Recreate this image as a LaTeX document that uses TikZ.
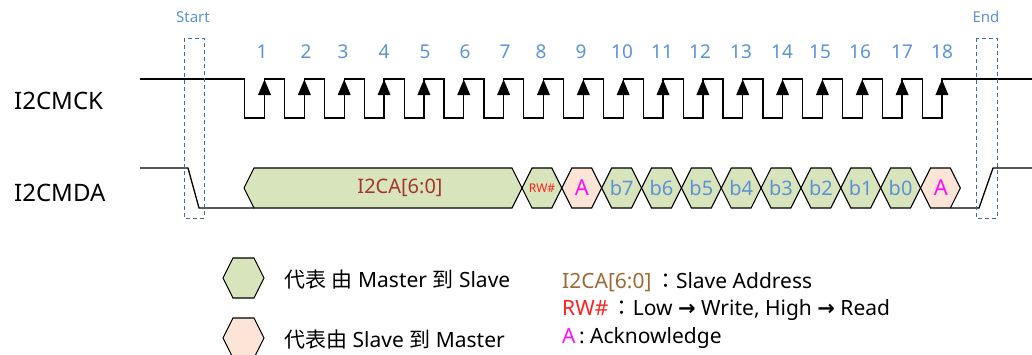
\documentclass[tikz,border=0pt]{standalone}
\usepackage{fontspec}
\setmainfont{Noto Sans}
\newfontfamily\cjk{Noto Sans CJK TC}
\newfontfamily\dv{DejaVu Sans}
\definecolor{hexgreen}{HTML}{D8E4BC}
\definecolor{hexpeach}{HTML}{FCE4D6}
\definecolor{numblue}{HTML}{5B93D5}
\definecolor{boxblue}{HTML}{4A6A90}
\definecolor{addrred}{HTML}{A5362E}
\definecolor{addrbrown}{HTML}{9C6A36}
\definecolor{rwred}{HTML}{FF2020}
\definecolor{ackmag}{HTML}{FF10F0}
\newcommand{\rarr}{{\dv\bfseries →}}
\begin{document}
\begin{tikzpicture}[x=1pt,y=-1pt,
  sig/.style={line width=1.3pt,line join=miter},
  hexa/.style={draw=black,line width=1.1pt,line join=miter},
  numlbl/.style={text=numblue,font=\fontsize{19}{19}\selectfont,inner sep=0pt},
  sigtitle/.style={font=\fontsize{24}{24}\selectfont,inner sep=0pt,anchor=west},
  bitlbl/.style={text=numblue,font=\fontsize{20}{20}\selectfont,inner sep=0pt},
  dashbox/.style={draw=boxblue,dashed,line width=1pt,dash pattern=on 4pt off 3pt},
  legtxt/.style={font=\fontsize{21}{21}\selectfont,inner sep=0pt,anchor=west},
  legtxtr/.style={font=\fontsize{21}{21}\selectfont,inner sep=0pt,anchor=west}]
\useasboundingbox (0,0) rectangle (1032,354);
\clip (0,0) rectangle (1032,354);

% signal names
\node[sigtitle] (mck) at (14,101) {I2CMCK};
\node[sigtitle] (mda) at (14,193) {I2CMDA};

% clock
\def\clkpath{(140,79)}
\foreach \k in {1,...,18}{
  \pgfmathsetmacro{\r}{264.5+39.85*(\k-1)}
  \pgfmathsetmacro{\f}{\r-19.7}
  \xdef\clkpath{\clkpath -- (\f,79) -- (\f,118) -- (\r,118) -- (\r,79)}
}
\draw[sig] \clkpath -- (1032,79);
\foreach \k in {1,...,18}{
  \pgfmathsetmacro{\r}{264.5+39.85*(\k-1)}
  \fill (\r,79.5) -- (\r-6.5,95) -- (\r+6.5,95) -- cycle;
}
% clock numbers
\foreach \n/\x in {1/262,2/306,3/343,4/384,5/425,6/465,7/505,8/541,9/581,10/622,11/662,12/700,13/741,14/782,15/820,16/860,17/902,18/942}{
  \node[numlbl] (n\n) at (\x,52) {\n};
}

% data line
\draw[sig] (140,168) -- (188,168) -- (199,208) -- (254,208);
\draw[sig] (950.4,208) -- (979,208) -- (993,168) -- (1032,168);

% address hexagon
\draw[hexa,fill=hexgreen] (244,188) -- (254,168) -- (512,168) -- (522,188) -- (512,208) -- (254,208) -- cycle;
\node[text=addrred,font=\fontsize{20}{20}\selectfont,inner sep=0pt] (addr) at (400,188) {I2CA[6:0]};

% bit hexagons
\foreach \i/\fc in {0/hexgreen,1/hexpeach,2/hexgreen,3/hexgreen,4/hexgreen,5/hexgreen,6/hexgreen,7/hexgreen,8/hexgreen,9/hexgreen,10/hexpeach}{
  \pgfmathsetmacro{\a}{522+39.85*\i}
  \pgfmathsetmacro{\b}{522+39.85*(\i+1)}
  \draw[hexa,fill=\fc] (\a,188) -- (\a+10,168) -- (\b-10,168) -- (\b,188) -- (\b-10,208) -- (\a+10,208) -- cycle;
}
\node[text=rwred,font=\fontsize{12}{12}\selectfont,inner sep=0pt] (rw) at (542,188) {RW\#};
\node[text=ackmag,font=\fontsize{22}{22}\selectfont,inner sep=0pt] (ack1) at (582,188) {A};
\foreach \i/\t in {2/b7,3/b6,4/b5,5/b4,6/b3,7/b2,8/b1,9/b0}{
  \pgfmathsetmacro{\c}{522+39.85*(\i+0.5)}
  \node[bitlbl] (\t) at (\c,188) {\t};
}
\node[text=ackmag,font=\fontsize{22}{22}\selectfont,inner sep=0pt] (ack2) at (941,188) {A};

% start / end boxes
\draw[dashbox] (184,38) rectangle (204,218);
\draw[dashbox] (976,38) rectangle (997,218);
\node[text=numblue,font=\fontsize{15}{15}\selectfont,inner sep=0pt] (start) at (193,17) {Start};
\node[text=numblue,font=\fontsize{15}{15}\selectfont,inner sep=0pt] (end) at (986,17) {End};

% legend
\draw[hexa,fill=hexgreen] (223,278) -- (233,258) -- (254,258) -- (264,278) -- (254,298) -- (233,298) -- cycle;
\draw[hexa,fill=hexpeach] (223,338) -- (233,318) -- (254,318) -- (264,338) -- (254,358) -- (233,358) -- cycle;
\node[legtxt] (lg1) at (284,280) {{\cjk 代表} {\cjk 由} Master {\cjk 到} Slave};
\node[legtxt] (lg2) at (284,340) {{\cjk 代表由} Slave {\cjk 到} Master};

\node[legtxtr] (lr1) at (562,282) {\textcolor{addrbrown}{I2CA[6:0]}\,{\cjk ：}Slave Address};
\node[legtxtr] (lr2) at (562,310) {\textcolor{rwred}{RW\#}\,{\cjk ：}Low \rarr{} Write, High \rarr{} Read};
\node[legtxtr] (lr3) at (562,338) {\textcolor{ackmag}{A}\,: Acknowledge};
\end{tikzpicture}
\end{document}
